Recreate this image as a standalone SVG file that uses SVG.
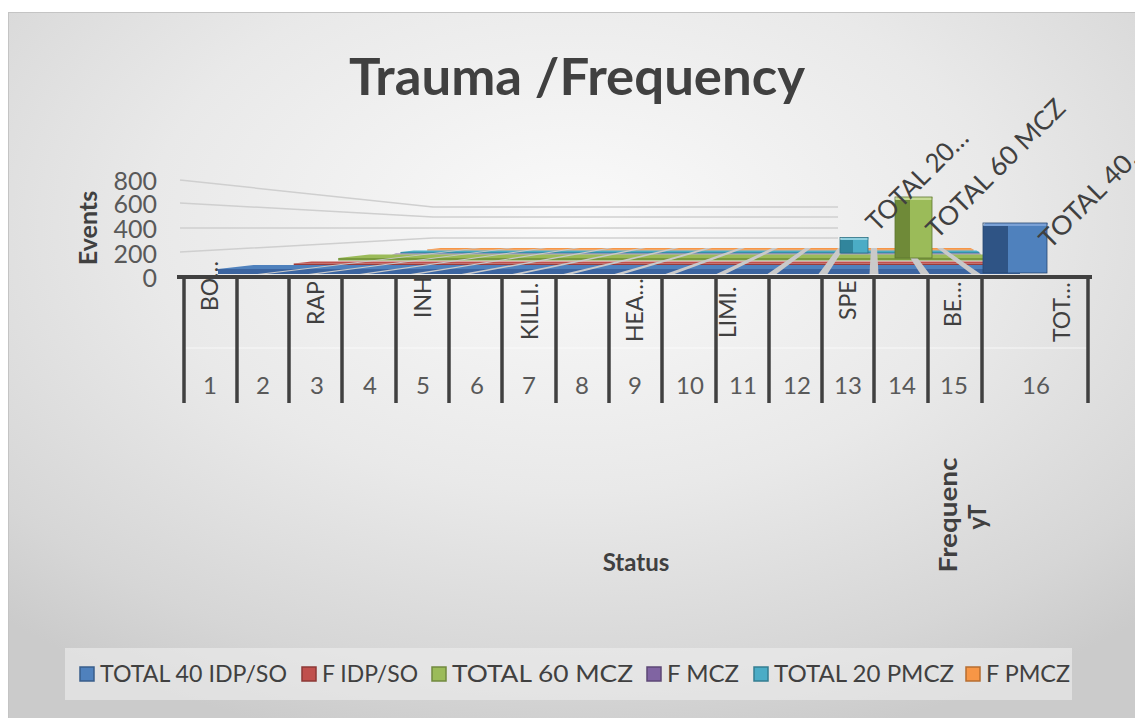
<svg xmlns="http://www.w3.org/2000/svg" width="1135" height="718" viewBox="0 0 1135 718">
<defs>
<radialGradient id="bg" cx="0.5" cy="0.3" r="0.75">
<stop offset="0" stop-color="#fafafa"/>
<stop offset="0.5" stop-color="#e9e9e9"/>
<stop offset="0.85" stop-color="#d6d6d6"/>
<stop offset="1" stop-color="#cbcbcb"/>
</radialGradient>
</defs>
<style>
text{font-family:Lato,"Open Sans","Liberation Sans",sans-serif}
.title{font-size:52px;font-weight:bold;fill:#404040}
.tick{font-size:25px;fill:#595959}
.ax{font-size:25px;font-weight:bold;fill:#404040}
.cat{font-size:23px;fill:#404040}
.num{font-size:24px;fill:#595959;text-anchor:middle}
.dl{font-size:26px;fill:#404040}
.leg{font-size:24px;fill:#404040}
.grid{fill:none;stroke:#cfcfcf;stroke-width:1.5}
.tk{stroke:#404040;stroke-width:3.5}
.gap{fill:#c9c9c9}
</style>
<g id="background">
<rect x="0" y="0" width="1135" height="718" fill="#ffffff"/>
<rect x="8.5" y="12.5" width="1130" height="710" fill="url(#bg)" stroke="#c4c4c4"/>
</g>
<g id="title"><text class="title" x="349" y="95" textLength="456" lengthAdjust="spacingAndGlyphs">Trauma /Frequency</text></g>
<g id="gridlines">
<polyline class="grid" points="180,180 433,207 838,207"/>
<polyline class="grid" points="180,203 433,217 838,217"/>
<polyline class="grid" points="180,228 433,228 838,228"/>
<polyline class="grid" points="180,252 433,238 838,238"/>
</g>
<g id="value-axis">
<text class="tick" x="157" y="190" text-anchor="end">800</text>
<text class="tick" x="157" y="213" text-anchor="end">600</text>
<text class="tick" x="157" y="238" text-anchor="end">400</text>
<text class="tick" x="157" y="263" text-anchor="end">200</text>
<text class="tick" x="157" y="287" text-anchor="end">0</text>
<text class="ax" transform="translate(97,228) rotate(-90)" text-anchor="middle">Events</text>
</g>
<g id="category-labels">
<text class="cat" transform="translate(218,311) rotate(-90)">BO…</text>
<text class="cat" transform="translate(324,325) rotate(-90)">RAP</text>
<text class="cat" transform="translate(431,318) rotate(-90)">INH</text>
<text class="cat" transform="translate(538,340) rotate(-90)">KILLI.</text>
<text class="cat" transform="translate(643,342) rotate(-90)">HEA…</text>
<text class="cat" transform="translate(736,338) rotate(-90)">LIMI.</text>
<text class="cat" transform="translate(856,320) rotate(-90)">SPE</text>
<text class="cat" transform="translate(961,327) rotate(-90)">BE…</text>
<text class="cat" transform="translate(1070,342) rotate(-90)">TOT…</text>
</g>
<g id="floor-bars">
<polygon fill="#e07a28" points="427.2,249.5 973.5,249.5 973.5,250.5 427.2,250.5"/>
<polygon fill="#f79646" points="427.2,249.5 973.5,249.5 970.5,248 440.7,248"/>
<polygon fill="#3790a8" points="400.4,252 979.4,252 979.4,253.5 400.4,253.5"/>
<polygon fill="#4bacc6" points="400.4,252 979.4,252 976.4,250.5 413.9,250.5"/>
<polygon fill="#8064a2" points="391.6,254.5 981.4,254.5 980,253.5 396,253.5"/>
<polygon fill="#7a9a3e" points="338.2,258 993.3,258 993.3,260.5 338.2,260.5"/>
<polygon fill="#9bbb59" points="338.2,258 993.3,258 986.3,254.5 369.4,254.5"/>
<polygon fill="#9c3b39" points="293.7,263.5 1003.1,263.5 1003.1,265.5 293.7,265.5"/>
<polygon fill="#c0504d" points="293.7,263.5 1003.1,263.5 999.2,261.5 311.5,261.5"/>
<polygon fill="#3b64a0" points="218,269 1020,269 1020,274 218,274"/>
<polygon fill="#4f81bd" points="218,269 1020,269 1012,265 253.6,265"/>
</g>
<g id="floor-gaps">
<polygon class="gap" points="257.5,274 266.5,274 481,248 475,248"/>
<polygon class="gap" points="308.5,274 317.5,274 514,248 508,248"/>
<polygon class="gap" points="359.5,274 368.5,274 547,248 541,248"/>
<polygon class="gap" points="410.5,274 419.5,274 580,248 574,248"/>
<polygon class="gap" points="461.5,274 470.5,274 613,248 607,248"/>
<polygon class="gap" points="512.5,274 521.5,274 646,248 640,248"/>
<polygon class="gap" points="563.5,274 572.5,274 679,248 673,248"/>
<polygon class="gap" points="614.5,274 623.5,274 712,248 706,248"/>
<polygon class="gap" points="665.5,274 674.5,274 745,248 739,248"/>
<polygon class="gap" points="716.5,274 725.5,274 778,248 772,248"/>
<polygon class="gap" points="767.5,274 776.5,274 811,248 805,248"/>
<polygon class="gap" points="818.5,274 827.5,274 844,248 838,248"/>
<polygon class="gap" points="869.5,274 878.5,274 877,248 871,248"/>
<polygon class="gap" points="920.5,274 929.5,274 910,248 904,248"/>
<polygon class="gap" points="971.5,274 980.5,274 943,248 937,248"/>
</g>
<g id="bar-total20-pmcz">
<rect x="840" y="240" width="13" height="13" fill="#31859c"/>
<rect x="853" y="240" width="15" height="13" fill="#4bacc6"/>
<polygon points="840,240 868,240 869,237.5 842,237.5" fill="#8fd0e0"/>
<rect x="840" y="237.5" width="28" height="15.5" fill="none" stroke="#2a6f82" stroke-width="0.8"/>
</g>
<g id="bar-total60-mcz">
<rect x="895" y="200" width="15" height="58" fill="#6f8a38"/>
<rect x="910" y="200" width="22" height="58" fill="#9bbb59"/>
<polygon points="895,200 932,200 933,197 897,197" fill="#c5da93"/>
<rect x="895" y="197" width="37" height="61" fill="none" stroke="#5e7530" stroke-width="0.8"/>
</g>
<g id="bar-total40-idp">
<rect x="983" y="226" width="25" height="47" fill="#2f5485"/>
<rect x="1008" y="226" width="39" height="47" fill="#4f81bd"/>
<polygon points="983,226 1047,226 1048,223 985,223" fill="#7aa1d6"/>
<rect x="983" y="223" width="64" height="50" fill="none" stroke="#274872" stroke-width="0.8"/>
</g>
<g id="data-labels">
<text class="dl" transform="translate(877,233) rotate(-45)" textLength="132" lengthAdjust="spacingAndGlyphs">TOTAL 20…</text>
<text class="dl" transform="translate(937,240) rotate(-45)" textLength="184" lengthAdjust="spacingAndGlyphs">TOTAL 60 MCZ</text>
<text class="dl" transform="translate(1050,250) rotate(-45)" textLength="140" lengthAdjust="spacingAndGlyphs">TOTAL 40…</text>
</g>
<g id="category-axis">
<line x1="184" y1="348" x2="1088" y2="348" stroke="#ffffff" stroke-opacity="0.35" stroke-width="2"/>
<line x1="177" y1="277" x2="1092" y2="277" stroke="#404040" stroke-width="4"/>
<line class="tk" x1="184" y1="277" x2="184" y2="403"/>
<line class="tk" x1="237" y1="277" x2="237" y2="403"/>
<line class="tk" x1="289" y1="277" x2="289" y2="403"/>
<line class="tk" x1="342" y1="277" x2="342" y2="403"/>
<line class="tk" x1="396" y1="277" x2="396" y2="403"/>
<line class="tk" x1="449" y1="277" x2="449" y2="403"/>
<line class="tk" x1="502" y1="277" x2="502" y2="403"/>
<line class="tk" x1="556" y1="277" x2="556" y2="403"/>
<line class="tk" x1="609" y1="277" x2="609" y2="403"/>
<line class="tk" x1="662" y1="277" x2="662" y2="403"/>
<line class="tk" x1="716" y1="277" x2="716" y2="403"/>
<line class="tk" x1="769" y1="277" x2="769" y2="403"/>
<line class="tk" x1="822" y1="277" x2="822" y2="403"/>
<line class="tk" x1="874" y1="277" x2="874" y2="403"/>
<line class="tk" x1="928" y1="277" x2="928" y2="403"/>
<line class="tk" x1="982" y1="277" x2="982" y2="403"/>
<line class="tk" x1="1088" y1="277" x2="1088" y2="403"/>
<text class="num" x="210" y="394">1</text>
<text class="num" x="263" y="394">2</text>
<text class="num" x="317" y="394">3</text>
<text class="num" x="370" y="394">4</text>
<text class="num" x="423" y="394">5</text>
<text class="num" x="477" y="394">6</text>
<text class="num" x="529" y="394">7</text>
<text class="num" x="582" y="394">8</text>
<text class="num" x="635" y="394">9</text>
<text class="num" x="690" y="394">10</text>
<text class="num" x="743" y="394">11</text>
<text class="num" x="797" y="394">12</text>
<text class="num" x="848" y="394">13</text>
<text class="num" x="902" y="394">14</text>
<text class="num" x="954" y="394">15</text>
<text class="num" x="1036" y="394">16</text>
<text class="ax" x="636" y="571" text-anchor="middle" style="font-size:24px">Status</text>
</g>
<g id="series-axis-title">
<text class="ax" transform="translate(957,515) rotate(-90)" text-anchor="middle" style="font-size:24px" textLength="115" lengthAdjust="spacingAndGlyphs">Frequenc</text>
<text class="ax" transform="translate(986,517) rotate(-90)" text-anchor="middle" style="font-size:24px">yT</text>
</g>
<g id="legend">
<rect x="65" y="648" width="1007" height="52" fill="#efefef" fill-opacity="0.6"/>
<rect x="80" y="667" width="14" height="14" fill="#4f81bd" stroke="#385d8a" stroke-width="1.5"/>
<text class="leg" x="100" y="682" textLength="187" lengthAdjust="spacingAndGlyphs">TOTAL 40 IDP/SO</text>
<rect x="302" y="667" width="14" height="14" fill="#c0504d" stroke="#8c3836" stroke-width="1.5"/>
<text class="leg" x="322" y="682" textLength="96" lengthAdjust="spacingAndGlyphs">F IDP/SO</text>
<rect x="432" y="667" width="14" height="14" fill="#9bbb59" stroke="#71893f" stroke-width="1.5"/>
<text class="leg" x="452" y="682" textLength="181" lengthAdjust="spacingAndGlyphs">TOTAL 60 MCZ</text>
<rect x="647" y="667" width="14" height="14" fill="#8064a2" stroke="#5c4776" stroke-width="1.5"/>
<text class="leg" x="667" y="682" textLength="72" lengthAdjust="spacingAndGlyphs">F MCZ</text>
<rect x="754" y="667" width="14" height="14" fill="#4bacc6" stroke="#357d91" stroke-width="1.5"/>
<text class="leg" x="774" y="682" textLength="180" lengthAdjust="spacingAndGlyphs">TOTAL 20 PMCZ</text>
<rect x="966" y="667" width="14" height="14" fill="#f79646" stroke="#b66d31" stroke-width="1.5"/>
<text class="leg" x="986" y="682" textLength="84" lengthAdjust="spacingAndGlyphs">F PMCZ</text>
</g>
</svg>
